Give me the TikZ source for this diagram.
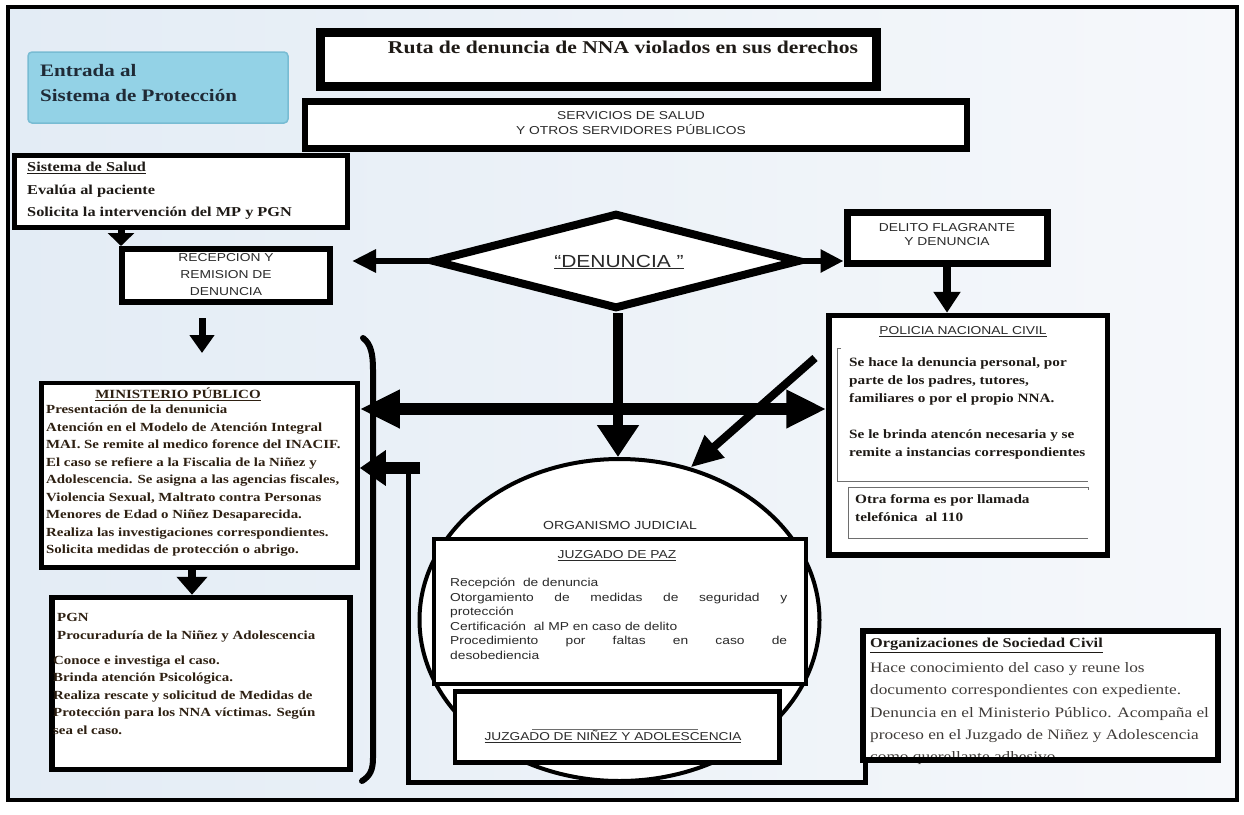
\documentclass[tikz,border=0pt]{standalone}
\usepackage{fontspec}
\setmainfont{Liberation Serif}[FakeStretch=1.2]
\newfontfamily\sansf{Liberation Sans}[FakeStretch=1.2]
\usetikzlibrary{shapes.geometric,arrows.meta}
\definecolor{bgL}{HTML}{E3ECF5}
\definecolor{bgR}{HTML}{F6F8FB}
\definecolor{entc}{HTML}{93D2E6}
\definecolor{entd}{HTML}{78BCD3}
\definecolor{entt}{HTML}{1F2A36}
\definecolor{txtc}{HTML}{1E1A16}
\definecolor{mpc}{HTML}{2E2012}
\definecolor{sansc}{HTML}{2A2A2A}
\definecolor{linegray}{HTML}{6E6E6E}
\newcommand\myfs[2]{\fontsize{#1}{#2}\selectfont}
\newcommand\jline[1]{\leavevmode\hbox to 337pt{#1}}
\begin{document}
\begin{tikzpicture}[x=1pt,y=-1pt,
  box/.style={draw=black,fill=white,inner sep=0pt},
  tl/.style={inner sep=0pt,anchor=north west,align=left,text=txtc},
  tc/.style={inner sep=0pt,anchor=north,align=center,text=sansc}]
\useasboundingbox (0,0) rectangle (1244,814);
\fill[white] (0,0) rectangle (1244,814);
\shade[left color=bgL,right color=bgR] (8,7) rectangle (1237,800);
\draw[line width=3.5pt] (8,7) rectangle (1237,800);

% Entrada
\node[fill=entc,draw=entd,line width=1.5pt,rounded corners=4pt,minimum width=260pt,minimum height=71pt,inner sep=0pt] (entrada) at (158,87.5) {};
\node[tl,text=entt,font={\bfseries\myfs{17.5}{25}}] (entradaT) at (40,64) {Entrada al\\Sistema de Protección};

% title
\node[box,line width=9pt,minimum width=556pt,minimum height=54pt] (title) at (598,59.5) {};
\node[inner sep=0pt,anchor=north,text=txtc,font={\bfseries\myfs{18}{22}}] (titleT) at (623,41) {Ruta de denuncia de NNA violados en sus derechos};

% servicios
\node[box,line width=6.5pt,minimum width=662pt,minimum height=47pt] (serv) at (636,125) {};
\node[tc,font={\sansf\myfs{11.5}{15}}] (servT) at (631,111.5) {SERVICIOS DE SALUD\\Y OTROS SERVIDORES PÚBLICOS};

% salud
\node[box,line width=5pt,minimum width=333.5pt,minimum height=72pt] (salud) at (180.75,191.5) {};
\node[tl,font={\bfseries\myfs{13.6}{22.5}}] (saludT) at (27,162) {\underline{Sistema de Salud}\\Evalúa al paciente\\Solicita la intervención del MP y PGN};

% recepcion
\node[box,line width=6pt,minimum width=208pt,minimum height=53pt] (recep) at (226,275.5) {};
\node[tc,font={\sansf\myfs{11.5}{17}}] (recepT) at (226,253) {RECEPCION Y\\REMISION DE\\DENUNCIA};

% denuncia diamond
\node[box,diamond,line width=8pt,minimum width=368pt,minimum height=96pt] (den) at (616,261) {};
\node[inner sep=0pt,text=sansc,font={\sansf\myfs{17.5}{20}}] (denT) at (619,262) {\underline{“DENUNCIA ”}};

% delito
\node[box,line width=7pt,minimum width=200pt,minimum height=51.5pt] (delito) at (947,237.75) {};
\node[tc,font={\sansf\myfs{11.5}{14}}] (delitoT) at (947,223) {DELITO FLAGRANTE\\Y DENUNCIA};

% policia
\node[box,line width=5.5pt,minimum width=278.5pt,minimum height=239.5pt] (pol) at (968.25,435.25) {};
\node[tc,font={\sansf\myfs{11.5}{14}}] (polT) at (963,326) {\underline{POLICIA NACIONAL CIVIL}};
\node[tl,font={\bfseries\myfs{12.7}{18}}] (polB) at (849,357) {Se hace la denuncia personal, por\\parte de los padres, tutores,\\familiares o por el propio NNA.\\[18pt]Se le brinda atencón necesaria y se\\remite a instancias correspondientes};
\node[tl,font={\bfseries\myfs{12.7}{18}}] (otraT) at (855,494) {Otra forma es por llamada\\telefónica\ \ al 110};
\draw[linegray,line width=1pt] (841,348) -- (837,348) -- (837,481) -- (1088,481);
\draw[linegray,line width=1pt] (848,538) -- (848,487) -- (1088,487) -- (1088,490);
\draw[linegray,line width=1pt] (848,538) -- (1088,538);

% ministerio
\node[box,line width=4.5pt,minimum width=316pt,minimum height=184.5pt] (mp) at (199.5,475.25) {};
\node[inner sep=0pt,anchor=north,text=mpc,font={\bfseries\myfs{12.5}{17.5}}] (mpT) at (178,388) {\underline{MINISTERIO PÚBLICO}};
\node[tl,text=mpc,font={\bfseries\myfs{12.4}{17.5}}] (mpB) at (46,405) {Presentación de la denunicia\\Atención en el Modelo de Atención Integral\\MAI. Se remite al medico forence del INACIF.\\El caso se refiere a la Fiscalia de la Niñez y\\Adolescencia. Se asigna a las agencias fiscales,\\Violencia Sexual, Maltrato contra Personas\\Menores de Edad o Niñez Desaparecida.\\Realiza las investigaciones correspondientes.\\Solicita medidas de protección o abrigo.};

% pgn
\node[box,line width=5.5pt,minimum width=298pt,minimum height=172pt] (pgn) at (201,683.5) {};
\node[tl,text=mpc,font={\bfseries\myfs{12.4}{18}}] (pgnH) at (57,613) {PGN\\Procuraduría de la Niñez y Adolescencia};
\node[tl,text=mpc,font={\bfseries\myfs{12.4}{17.5}}] (pgnB) at (53,655.5) {Conoce e investiga el caso.\\Brinda atención Psicológica.\\Realiza rescate y solicitud de Medidas de\\Protección para los NNA víctimas. Según\\sea el caso.};

% organismo judicial
\node[box,ellipse,line width=4pt,minimum width=400pt,minimum height=322pt] (ell) at (619.5,620) {};
\node[inner sep=0pt,text=sansc,font={\sansf\myfs{11.7}{14}}] (ellT) at (620,525) {ORGANISMO JUDICIAL};

\node[box,line width=4pt,minimum width=372pt,minimum height=145pt] (paz) at (620,611) {};
\node[inner sep=0pt,text=sansc,font={\sansf\myfs{11.5}{14}}] (pazT) at (617,556) {\underline{JUZGADO DE PAZ}};
\node[tl,text=sansc,text width=337pt,font={\sansf\myfs{11.5}{14.5}}] (pazB) at (450,578) {Recepción\ \ de denuncia\\\jline{Otorgamiento\hfill de\hfill medidas\hfill de\hfill seguridad\hfill y}\\protección\\Certificación\ \ al MP en caso de delito\\\jline{Procedimiento\hfill por\hfill faltas\hfill en\hfill caso\hfill de}\\desobediencia};

\node[box,line width=4.5pt,minimum width=324.5pt,minimum height=71pt] (nin) at (617.25,727) {};
\node[inner sep=0pt,text=sansc,font={\sansf\myfs{11.4}{14}}] (ninT) at (613,737) {\underline{JUZGADO DE NIÑEZ Y ADOLESCENCIA}};
\draw[linegray,line width=0.8pt] (532,729) -- (698,729);

% organizaciones
\node[box,line width=6pt,minimum width=355pt,minimum height=129pt] (org) at (1040.5,695.5) {};
\node[tl,font={\bfseries\myfs{13.6}{22}}] (orgT) at (870,638) {\underline{Organizaciones de Sociedad Civil}};
\node[tl,text=txtc!85,font={\myfs{14.4}{22.25}}] (orgB) at (870,662.5) {Hace conocimiento del caso y reune los\\documento correspondientes con expediente.\\Denuncia en el Ministerio Público. Acompaña el\\proceso en el Juzgado de Niñez y Adolescencia\\como querellante adhesivo.};
\draw[line width=6pt] ([yshift=3pt]org.south west) -- ([yshift=3pt]org.south east);

% bracket
\draw[line width=6pt,line cap=round] (363,338) .. controls (371,344) and (373,354) .. (373,370) -- (373,758) .. controls (373,770) and (370,776) .. (362,781);

% connectors
\coordinate (a1) at (121,0);
\draw[line width=7pt,-{Triangle[length=13pt,width=26pt]}] (salud.south -| a1) -- (recep.north -| a1);
\coordinate (r2s) at (202,318);
\coordinate (r2e) at (202,353);
\draw[line width=7pt,-{Triangle[length=18pt,width=24pt]}] (r2s) -- (r2e);
\coordinate (dl) at (352,261);
\draw[line width=6pt,-{Triangle[length=24pt,width=22pt]}] (den.west) -- (dl);
\draw[line width=6pt,-{Triangle[length=23pt,width=22pt]}] (den.east) -- (den.east -| delito.west);
\draw[line width=8pt,-{Triangle[length=21pt,width=26pt]}] (delito.south) -- (delito.south |- pol.north);
\coordinate (vx) at (618,0);
\draw[line width=10pt,-{Triangle[length=32pt,width=40pt]}] (den.south -| vx) -- (ell.north -| vx);
\coordinate (hy) at (0,409);
\draw[line width=12pt,{Triangle[length=40pt,width=36pt]}-{Triangle[length=40pt,width=36pt]}] (mp.east |- hy) -- (pol.west |- hy);
\coordinate (dg) at (815,358);
\draw[line width=8pt,-{Triangle[length=32pt,width=28pt]}] (dg) -- (ell.65);
\coordinate (mpx) at (192,0);
\draw[line width=8pt,-{Triangle[length=18pt,width=30pt]}] (mp.south -| mpx) -- (pgn.north -| mpx);
\coordinate (c1) at (865,782);
\coordinate (c2) at (408,782);
\coordinate (c3) at (408,468);
\coordinate (c4) at (420,468);
\draw[line width=5pt] (org.south -| c1) -- (c1) -- (c2) -- (c3);
\draw[line width=12pt,-{Triangle[length=26pt,width=34pt]}] (c4) -- (mp.east |- c4);
\end{tikzpicture}
\end{document}
